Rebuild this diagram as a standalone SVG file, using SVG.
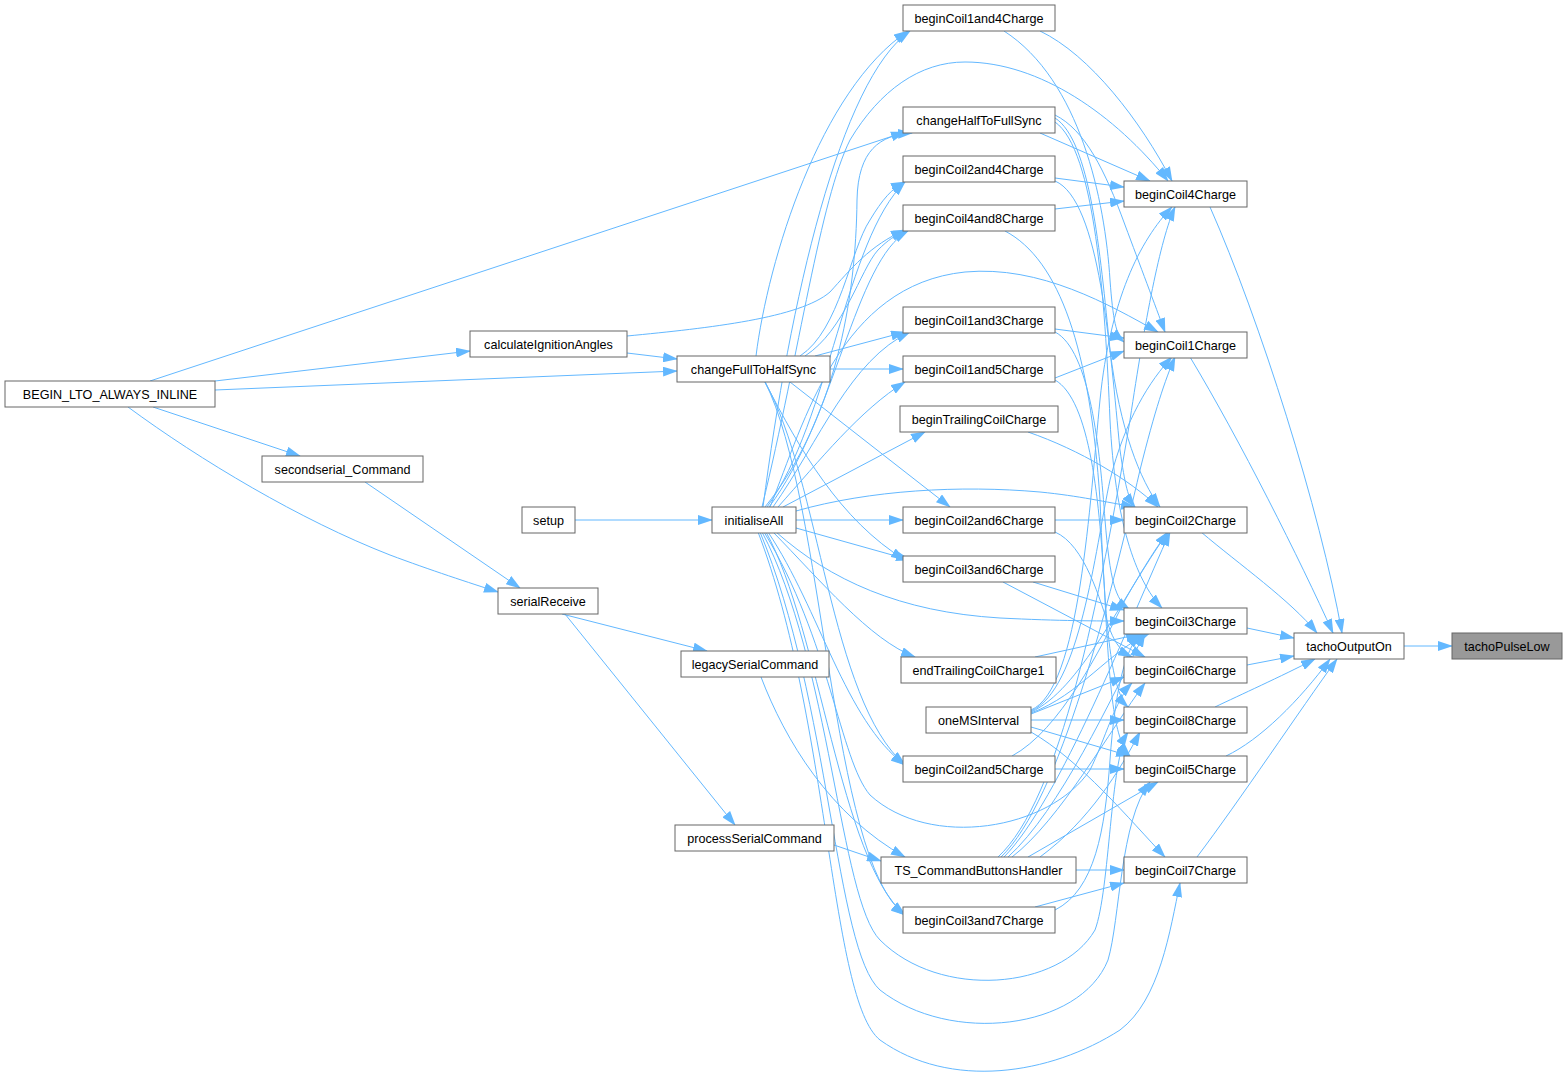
<svg xmlns="http://www.w3.org/2000/svg" width="1568" height="1078" viewBox="0 0 1568 1078">
<style>
.n rect{fill:#fff;stroke:#666;stroke-width:1}
.n text{font-family:"Liberation Sans",Arial,sans-serif;font-size:12.6px;fill:#000;text-anchor:middle}
.e path{fill:none;stroke:#63b8ff;stroke-width:1;marker-end:url(#ah)}
</style>
<defs>
<marker id="ah" markerUnits="userSpaceOnUse" markerWidth="15" markerHeight="10" refX="14" refY="5" orient="auto" viewBox="0 0 15 10">
<path d="M0,0 L15,5 L0,10 z" fill="#63b8ff"/>
</marker>
</defs>
<rect width="1568" height="1078" fill="#fff"/>
<g id="edges" class="e">
<path d="M1404,646 L1452,646"/>
<path d="M1247,628 L1294,638"/>
<path d="M1247,665 L1294,656"/>
<path d="M1215,707 C1240,695 1280,677 1315,659"/>
<path d="M1226,756 C1260,740 1300,700 1330,659"/>
<path d="M1197,857 C1240,800 1300,710 1337,659"/>
<path d="M1210,207 C1260,320 1320,510 1342,633"/>
<path d="M1190,357 C1240,440 1300,560 1333,633"/>
<path d="M1201,532 C1240,565 1290,600 1317,633"/>
<path d="M215,381 L470,351"/>
<path d="M215,390 L677,371"/>
<path d="M150,381 L905,132"/>
<path d="M153,407 L300,456"/>
<path d="M128,407 C200,460 300,520 390,555 C430,570 470,583 498,592"/>
<path d="M365,482 L520,588"/>
<path d="M575,520 L712,520"/>
<path d="M627,353 L677,359"/>
<path d="M627,336 C710,328 800,318 830,292 C850,270 870,245 905,230"/>
<path d="M562,614 L707,651"/>
<path d="M565,614 L735,825"/>
<path d="M761,677 C785,740 830,815 905,857"/>
<path d="M834,845 L881,861"/>
<path d="M756,356 C768,260 820,90 908,31"/>
<path d="M800,356 C840,330 850,250 870,220 C882,200 892,188 905,182"/>
<path d="M805,356 C845,330 860,270 878,250 C888,240 895,235 907,231"/>
<path d="M815,356 L905,332"/>
<path d="M830,369 L903,369"/>
<path d="M790,382 L950,507"/>
<path d="M765,382 C800,450 840,520 905,560"/>
<path d="M765,382 C820,480 830,700 905,765"/>
<path d="M765,382 C825,500 830,860 905,915"/>
<path d="M763,507 C790,300 840,80 910,31"/>
<path d="M765,507 C835,420 856,300 857,200 C858,150 880,135 912,133"/>
<path d="M767,507 C830,420 845,240 905,182"/>
<path d="M769,507 C835,420 855,260 908,231"/>
<path d="M773,507 C820,440 850,360 910,332"/>
<path d="M778,507 C820,460 860,410 905,382"/>
<path d="M783,507 L925,432"/>
<path d="M796,520 L903,520"/>
<path d="M796,528 L910,560"/>
<path d="M773,532 C820,580 870,640 915,657"/>
<path d="M768,532 C820,610 845,720 905,765"/>
<path d="M766,532 C820,630 840,860 905,915"/>
<path d="M762,507 C800,350 820,200 850,140 C880,90 920,62 965,62 C1040,62 1115,115 1168,181"/>
<path d="M770,507 C805,420 840,285 965,272 C1040,265 1110,305 1158,332"/>
<path d="M796,511 C870,490 960,485 1040,492 C1080,496 1105,502 1135,507"/>
<path d="M776,532 C830,580 900,612 1000,618 C1060,621 1100,621 1124,621"/>
<path d="M764,532 C830,640 840,760 870,795 C930,850 1050,830 1090,770 C1105,740 1115,700 1132,683"/>
<path d="M762,532 C830,660 840,900 880,940 C940,1000 1060,990 1095,930 C1110,890 1110,760 1128,732"/>
<path d="M760,532 C830,700 835,950 880,990 C950,1045 1080,1030 1108,960 C1120,920 1120,820 1150,782"/>
<path d="M758,532 C830,720 830,1000 880,1040 C950,1090 1050,1075 1120,1030 C1160,1000 1170,930 1180,883"/>
<path d="M1031,710 C1080,690 1090,500 1100,400 C1110,300 1140,240 1172,207"/>
<path d="M1031,711 C1080,690 1095,550 1110,480 C1125,420 1150,380 1172,357"/>
<path d="M1031,712 C1080,690 1120,600 1168,532"/>
<path d="M1031,713 C1080,695 1110,650 1150,633"/>
<path d="M1031,714 L1124,677"/>
<path d="M1031,720 L1124,720"/>
<path d="M1031,727 L1130,756"/>
<path d="M1031,732 C1080,760 1130,820 1165,857"/>
<path d="M998,857 C1060,800 1100,600 1130,420 C1145,320 1160,240 1175,207"/>
<path d="M1001,857 C1060,800 1110,600 1140,470 C1155,410 1165,380 1175,357"/>
<path d="M1004,857 C1060,800 1130,620 1170,532"/>
<path d="M1008,857 C1060,810 1110,700 1145,633"/>
<path d="M1012,857 C1060,820 1110,730 1145,683"/>
<path d="M1040,857 C1090,820 1120,770 1140,732"/>
<path d="M1028,857 L1158,782"/>
<path d="M1076,870 L1124,870"/>
<path d="M1040,31 C1090,55 1140,120 1172,181"/>
<path d="M1004,31 C1080,80 1105,200 1110,280 C1113,320 1116,335 1124,342"/>
<path d="M1040,133 L1150,181"/>
<path d="M1055,115 C1085,130 1105,170 1125,225 C1140,265 1155,305 1165,332"/>
<path d="M1055,118 C1090,140 1100,250 1110,350 C1120,430 1140,480 1160,507"/>
<path d="M1055,122 C1095,150 1105,300 1110,420 C1115,520 1135,580 1162,608"/>
<path d="M1055,178 L1124,187"/>
<path d="M1055,181 C1100,200 1110,350 1120,450 C1125,485 1128,498 1135,507"/>
<path d="M1055,209 L1124,201"/>
<path d="M1005,231 C1060,260 1090,350 1100,500 C1105,620 1110,690 1128,707"/>
<path d="M1055,329 L1124,338"/>
<path d="M1055,332 C1090,350 1100,450 1105,520 C1110,580 1115,600 1130,610"/>
<path d="M1055,378 L1124,351"/>
<path d="M1055,380 C1090,400 1100,500 1105,600 C1110,700 1115,740 1130,756"/>
<path d="M1028,432 C1080,450 1130,480 1158,507"/>
<path d="M1055,520 L1124,520"/>
<path d="M1055,532 C1085,545 1100,600 1110,630 C1116,645 1122,652 1132,657"/>
<path d="M1033,582 L1124,610"/>
<path d="M1003,582 L1145,657"/>
<path d="M1035,657 L1140,634"/>
<path d="M1012,756 C1060,730 1100,650 1125,600 C1145,565 1158,545 1168,532"/>
<path d="M1055,769 L1124,769"/>
<path d="M1055,910 C1095,890 1105,830 1110,760 C1115,690 1125,650 1140,634"/>
<path d="M1035,907 L1124,883"/>
</g>
<g id="tachoPulseLow" class="n"><rect x="1452" y="633" width="110" height="26" style="fill:#999"/><text x="1507" y="650.5">tachoPulseLow</text></g>
<g id="tachoOutputOn" class="n"><rect x="1294" y="633" width="110" height="26"/><text x="1349" y="650.5">tachoOutputOn</text></g>
<g id="beginCoil4Charge" class="n"><rect x="1124" y="181" width="123" height="26"/><text x="1185.5" y="198.5">beginCoil4Charge</text></g>
<g id="beginCoil1Charge" class="n"><rect x="1124" y="332" width="123" height="26"/><text x="1185.5" y="349.5">beginCoil1Charge</text></g>
<g id="beginCoil2Charge" class="n"><rect x="1124" y="507" width="123" height="26"/><text x="1185.5" y="524.5">beginCoil2Charge</text></g>
<g id="beginCoil3Charge" class="n"><rect x="1124" y="608" width="123" height="26"/><text x="1185.5" y="625.5">beginCoil3Charge</text></g>
<g id="beginCoil6Charge" class="n"><rect x="1124" y="657" width="123" height="26"/><text x="1185.5" y="674.5">beginCoil6Charge</text></g>
<g id="beginCoil8Charge" class="n"><rect x="1124" y="707" width="123" height="26"/><text x="1185.5" y="724.5">beginCoil8Charge</text></g>
<g id="beginCoil5Charge" class="n"><rect x="1124" y="756" width="123" height="26"/><text x="1185.5" y="773.5">beginCoil5Charge</text></g>
<g id="beginCoil7Charge" class="n"><rect x="1124" y="857" width="123" height="26"/><text x="1185.5" y="874.5">beginCoil7Charge</text></g>
<g id="beginCoil1and4Charge" class="n"><rect x="903" y="5" width="152" height="26"/><text x="979" y="22.5">beginCoil1and4Charge</text></g>
<g id="changeHalfToFullSync" class="n"><rect x="903" y="107" width="152" height="26"/><text x="979" y="124.5">changeHalfToFullSync</text></g>
<g id="beginCoil2and4Charge" class="n"><rect x="903" y="156" width="152" height="26"/><text x="979" y="173.5">beginCoil2and4Charge</text></g>
<g id="beginCoil4and8Charge" class="n"><rect x="903" y="205" width="152" height="26"/><text x="979" y="222.5">beginCoil4and8Charge</text></g>
<g id="beginCoil1and3Charge" class="n"><rect x="903" y="307" width="152" height="26"/><text x="979" y="324.5">beginCoil1and3Charge</text></g>
<g id="beginCoil1and5Charge" class="n"><rect x="903" y="356" width="152" height="26"/><text x="979" y="373.5">beginCoil1and5Charge</text></g>
<g id="beginTrailingCoilCharge" class="n"><rect x="900" y="406" width="158" height="26"/><text x="979" y="423.5">beginTrailingCoilCharge</text></g>
<g id="beginCoil2and6Charge" class="n"><rect x="903" y="507" width="152" height="26"/><text x="979" y="524.5">beginCoil2and6Charge</text></g>
<g id="beginCoil3and6Charge" class="n"><rect x="903" y="556" width="152" height="26"/><text x="979" y="573.5">beginCoil3and6Charge</text></g>
<g id="endTrailingCoilCharge1" class="n"><rect x="901" y="657" width="155" height="26"/><text x="978.5" y="674.5">endTrailingCoilCharge1</text></g>
<g id="oneMSInterval" class="n"><rect x="926" y="707" width="105" height="26"/><text x="978.5" y="724.5">oneMSInterval</text></g>
<g id="beginCoil2and5Charge" class="n"><rect x="903" y="756" width="152" height="26"/><text x="979" y="773.5">beginCoil2and5Charge</text></g>
<g id="TS_CommandButtonsHandler" class="n"><rect x="881" y="857" width="195" height="26"/><text x="978.5" y="874.5">TS_CommandButtonsHandler</text></g>
<g id="beginCoil3and7Charge" class="n"><rect x="903" y="907" width="152" height="26"/><text x="979" y="924.5">beginCoil3and7Charge</text></g>
<g id="changeFullToHalfSync" class="n"><rect x="677" y="356" width="153" height="26"/><text x="753.5" y="373.5">changeFullToHalfSync</text></g>
<g id="initialiseAll" class="n"><rect x="712" y="507" width="84" height="26"/><text x="754" y="524.5">initialiseAll</text></g>
<g id="legacySerialCommand" class="n"><rect x="681" y="651" width="148" height="26"/><text x="755" y="668.5">legacySerialCommand</text></g>
<g id="processSerialCommand" class="n"><rect x="675" y="825" width="159" height="26"/><text x="754.5" y="842.5">processSerialCommand</text></g>
<g id="calculateIgnitionAngles" class="n"><rect x="470" y="331" width="157" height="26"/><text x="548.5" y="348.5">calculateIgnitionAngles</text></g>
<g id="setup" class="n"><rect x="522" y="507" width="53" height="26"/><text x="548.5" y="524.5">setup</text></g>
<g id="serialReceive" class="n"><rect x="498" y="588" width="100" height="26"/><text x="548" y="605.5">serialReceive</text></g>
<g id="secondserial_Command" class="n"><rect x="262" y="456" width="161" height="26"/><text x="342.5" y="473.5">secondserial_Command</text></g>
<g id="BEGIN_LTO_ALWAYS_INLINE" class="n"><rect x="5" y="381" width="210" height="26"/><text x="110" y="398.5">BEGIN_LTO_ALWAYS_INLINE</text></g>
</svg>
